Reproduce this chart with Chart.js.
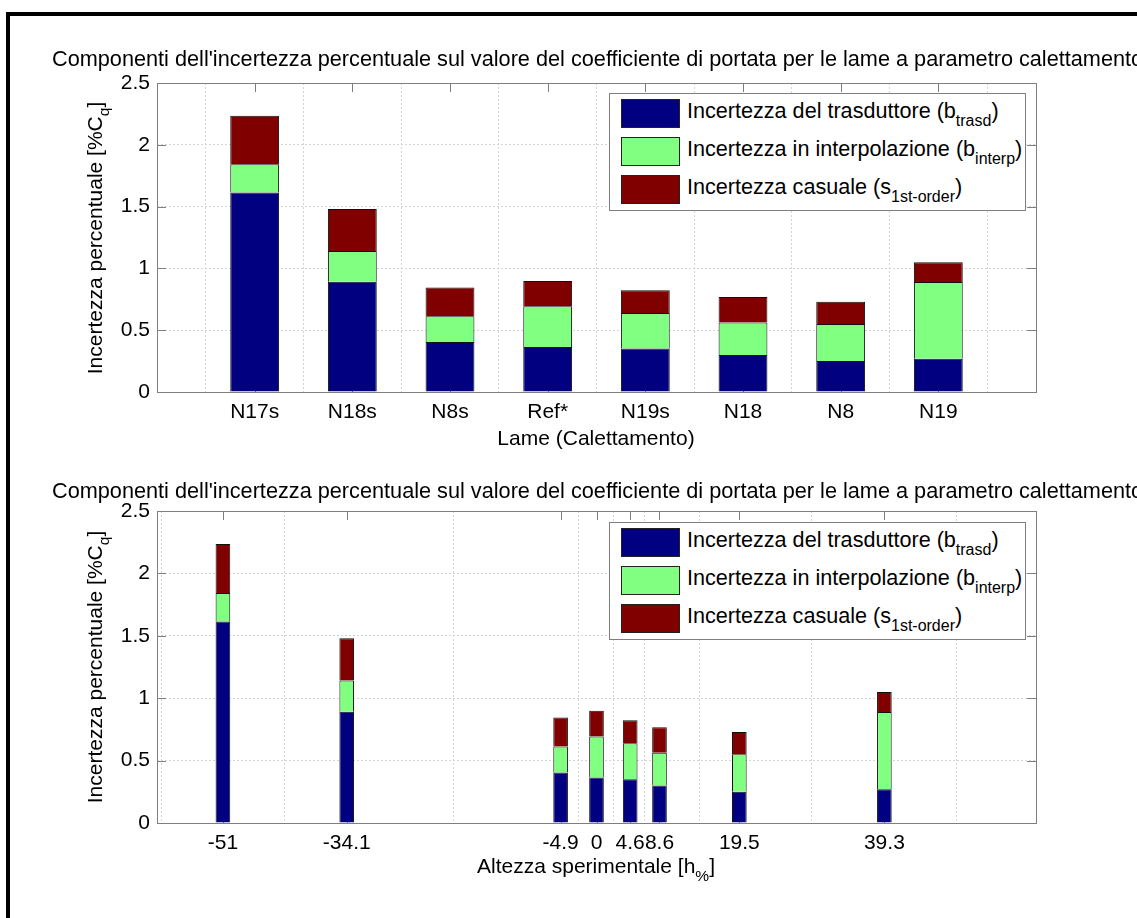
<!DOCTYPE html>
<html><head><meta charset="utf-8">
<script src="https://cdn.jsdelivr.net/npm/chart.js@4.4.0/dist/chart.umd.min.js"></script>
<style>
html,body{margin:0;padding:0;background:#fff;overflow:hidden;width:1137px;height:918px;}
body{position:relative;font-family:"Liberation Sans",Arial,sans-serif;color:#000;}
#frame{position:absolute;left:6px;top:12px;width:1400px;height:1200px;border:4px solid #000;box-sizing:border-box;}
canvas{position:absolute;left:0;}
.title{position:absolute;left:52px;white-space:nowrap;font-size:21.7px;line-height:22px;z-index:3;}
.ylab{position:absolute;white-space:nowrap;font-size:21px;line-height:21px;transform:translate(-50%,-50%) rotate(-90deg);z-index:3;}
.xlab{position:absolute;white-space:nowrap;font-size:21px;line-height:21px;transform:translateX(-50%);z-index:3;}
.legend{position:absolute;left:609px;width:417px;height:118px;border:1px solid #7f7f7f;background:#fff;box-sizing:border-box;z-index:4;}
.sw{position:absolute;left:11px;width:59px;height:29px;border:1px solid #222;box-sizing:border-box;}
.lt{position:absolute;left:77px;font-size:21.6px;line-height:22px;white-space:nowrap;}
sub{font-size:0.74em;line-height:0;vertical-align:-0.5em;}
</style>
</head><body>
<div id="frame"></div>
<canvas id="c1" width="1137" height="460" style="top:0"></canvas>
<canvas id="c2" width="1137" height="458" style="top:460px"></canvas>
<div id="overlay"></div>
<script>
// ---- data ----
const categories = ['N17s','N18s','N8s','Ref*','N19s','N18','N8','N19'];
const heights = [-51, -34.1, -4.9, 0, 4.6, 8.6, 19.5, 39.3];
const heightTickLabels = ['-51','-34.1','-4.9','0','4.6','8.6','19.5','39.3'];
const yTicks = [0, 0.5, 1, 1.5, 2, 2.5];
const bTrasd  = [1.615, 0.892, 0.404, 0.364, 0.351, 0.300, 0.250, 0.270];
const bInterp = [0.228, 0.249, 0.208, 0.329, 0.289, 0.262, 0.300, 0.620];
const s1st    = [0.392, 0.339, 0.233, 0.206, 0.184, 0.206, 0.180, 0.160];
const seriesLabels = ['Incertezza del trasduttore (b', 'Incertezza in interpolazione (b', 'Incertezza casuale (s'];
const seriesSubs = ['trasd', 'interp', '1st-order'];
const seriesColors = ['#000080', '#80ff80', '#800000'];
const chartTitle = "Componenti dell'incertezza percentuale sul valore del coefficiente di portata per le lame a parametro calettamento";
const yLabelHtml = 'Incertezza percentuale [%C<sub>q</sub>]';
const xLabel1Html = 'Lame (Calettamento)';
const xLabel2Html = 'Altezza sperimentale [h<sub>%</sub>]';

// ---- overlay text ----
const ov = document.getElementById('overlay');
function addDiv(cls, html, style){const d=document.createElement('div');d.className=cls;d.innerHTML=html;Object.assign(d.style,style);ov.appendChild(d);return d;}
addDiv('title', chartTitle, {top:'48px'});
addDiv('title', chartTitle, {top:'480px'});
addDiv('ylab', yLabelHtml, {left:'94px', top:'238px'});
addDiv('ylab', yLabelHtml, {left:'94px', top:'667px'});
addDiv('xlab', xLabel1Html, {left:'596px', top:'427px'});
addDiv('xlab', xLabel2Html, {left:'596px', top:'855px'});
function addLegend(top){
  const lg = addDiv('legend','',{top:top+'px'});
  seriesLabels.forEach((l,i)=>{
    const cy = 19 + i*38;
    const sw=document.createElement('div');sw.className='sw';sw.style.top=(cy-14)+'px';sw.style.background=seriesColors[i];lg.appendChild(sw);
    const t=document.createElement('div');t.className='lt';t.style.top=(cy-13)+'px';t.innerHTML=l+'<sub>'+seriesSubs[i]+'</sub>)';lg.appendChild(t);
  });
}
addLegend(93);
addLegend(522);

// ---- charts ----
const BOX='#7f7f7f';
const boxPlugin = {
  id:'matlabBox',
  beforeDatasetsDraw(chart){
    const {ctx, chartArea:a, scales} = chart;
    ctx.save();
    ctx.strokeStyle=BOX; ctx.lineWidth=1;
    ctx.strokeRect(Math.round(a.left)+0.5, Math.round(a.top)+0.5, Math.round(a.right-a.left), Math.round(a.bottom-a.top));
    const L=9;
    ctx.beginPath();
    scales.x.ticks.forEach(t=>{const x=Math.round(scales.x.getPixelForValue(t.value))+0.5;
      ctx.moveTo(x,a.top);ctx.lineTo(x,a.top+L);ctx.moveTo(x,a.bottom);ctx.lineTo(x,a.bottom-L);});
    scales.y.ticks.forEach(t=>{const y=Math.round(scales.y.getPixelForValue(t.value))+0.5;
      ctx.moveTo(a.left,y);ctx.lineTo(a.left+L,y);ctx.moveTo(a.right,y);ctx.lineTo(a.right-L,y);});
    ctx.stroke();
    ctx.restore();
  }
};
Chart.defaults.font.family = '"Liberation Sans", Arial, sans-serif';
Chart.defaults.color = '#000';

function makeChart(id, xs, xmin, xmax, tickVals, tickLabels, padTop, padBottom){
  const datasets = [bTrasd, bInterp, s1st].map((arr,k)=>({
    label: seriesLabels[k] + seriesSubs[k] + ')',
    data: arr.map((v,i)=>({x: xs[i], y: v})),
    backgroundColor: seriesColors[k],
    borderColor: '#111',
    borderWidth: 1,
    barPercentage: 0.5,
    categoryPercentage: 1.0
  }));
  return new Chart(document.getElementById(id), {
    type:'bar',
    data:{datasets},
    options:{
      responsive:false, animation:false, devicePixelRatio:1,
      layout:{padding:{left:0, right:101, top:padTop, bottom:padBottom}},
      plugins:{legend:{display:false}, tooltip:{enabled:false}, title:{display:false}},
      scales:{
        x:{type:'linear', stacked:true, min:xmin, max:xmax, offset:false,
           afterBuildTicks(s){ s.ticks = tickVals.map(v=>({value:v})); },
           afterFit(s){ s.height = 30; },
           ticks:{autoSkip:false, maxRotation:0, minRotation:0, padding:8, font:{size:21},
             callback(v, i){ return tickLabels[i]; }},
           grid:{color:'#d4d4d4', lineWidth:1, drawTicks:false},
           border:{display:false, dash:[2,2]}
        },
        y:{type:'linear', stacked:true, min:0, max:2.5,
           afterBuildTicks(s){ s.ticks = yTicks.map(v=>({value:v})); },
           afterFit(s){ s.width = 157; },
           ticks:{padding:7, font:{size:21}, callback(v){ return String(v); }},
           grid:{color:'#d4d4d4', lineWidth:1, drawTicks:false},
           border:{display:false, dash:[2,2]}
        }
      }
    },
    plugins:[boxPlugin]
  });
}
makeChart('c1', categories.map((c,i)=>i+1), 0, 9, categories.map((c,i)=>i+1), categories, 83, 38);
makeChart('c2', heights, -60, 60, heights, heightTickLabels, 51, 65);
</script>
</body></html>
